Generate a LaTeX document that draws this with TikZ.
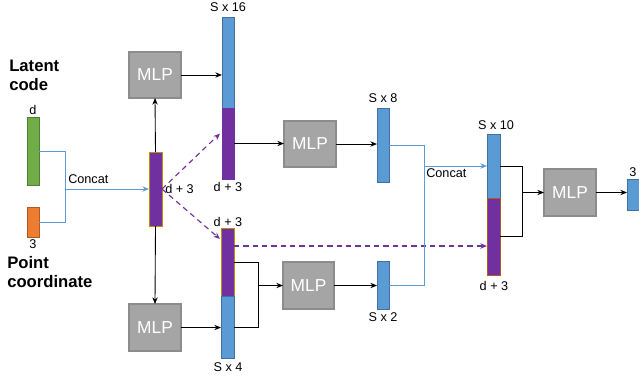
\documentclass[tikz,border=0pt]{standalone}
\usepackage{fontspec}
\setmainfont{Liberation Sans}
\usetikzlibrary{fit,calc,arrows.meta}
\definecolor{cblue}{HTML}{5B9BD5}
\definecolor{cblueb}{HTML}{41719C}
\definecolor{cpurple}{HTML}{7030A0}
\definecolor{cgreen}{HTML}{70AD47}
\definecolor{cgreenb}{HTML}{507E32}
\definecolor{corange}{HTML}{ED7D31}
\definecolor{corangeb}{HTML}{AE5A21}
\definecolor{cgold}{HTML}{BF9000}
\definecolor{cgray}{HTML}{A5A5A5}
\definecolor{cgrayb}{HTML}{8C8C8C}
\tikzset{
  box/.style={inner sep=0pt, outer sep=0pt},
  bluebar/.style={box, fill=cblue, draw=cblueb, line width=0.6pt},
  purplebar/.style={box, fill=cpurple, draw=cpurple, line width=0.6pt},
  goldbar/.style={box, fill=cpurple, draw=cgold, line width=0.7pt},
  mlp/.style={box, fill=cgray, draw=cgrayb, line width=0.8pt},
  mlptext/.style={inner sep=0pt, text=white, font=\fontsize{13}{15}\selectfont},
  lbl/.style={font=\fontsize{9.5}{11}\selectfont, inner sep=0pt},
  big/.style={font=\bfseries\fontsize{12.5}{15}\selectfont, align=left, inner sep=0pt},
  conn/.style={draw=cblue, line width=0.7pt},
  blk/.style={draw=black, line width=0.65pt},
  arr/.style={-{Stealth[length=5pt,width=4pt]}},
  dsh/.style={draw=cpurple, line width=0.85pt, dash pattern=on 4pt off 3pt, -{Stealth[length=5pt,width=4pt]}}
}
\begin{document}
\begin{tikzpicture}[x=0.75pt,y=-0.75pt]
\useasboundingbox (0,0) rectangle (639,376);
\fill[white] (0,0) rectangle (639,376);
% inputs
\node[box, fill=cgreen, draw=cgreenb, line width=0.6pt, fit={(27,117)(39,185)}] (g) {};
\node[box, fill=corange, draw=corangeb, line width=0.6pt, fit={(27,207)(39,237)}] (o) {};
\node[lbl] (dl) at (33,110) {d};
\node[lbl, anchor=north] (tl) at (33,239) {3};
\node[big, anchor=north west] (lat) at (9,60) {Latent\\[-1pt]code};
\node[big, anchor=north west] (pc) at (7,256) {Point\\[-1pt]coordinate};
% concat bar
\node[goldbar, fit={(149,152)(162,226)}] (c) {};
\node[lbl, anchor=west] (cdl) at (165,189) {d + 3};
% MLPs
\node[mlp, fit={(129,52)(181,98)}] (m1) {};
\node[mlptext] at (m1.center) (m1t) {MLP};
\node[mlp, fit={(129,304)(181,351)}] (m4) {};
\node[mlptext] at (m4.center) (m4t) {MLP};
\node[mlp, fit={(284,121)(336,167)}] (m2) {};
\node[mlptext] at (m2.center) (m2t) {MLP};
\node[mlp, fit={(283,262)(334,309)}] (m3) {};
\node[mlptext] at (m3.center) (m3t) {MLP};
\node[mlp, fit={(544,169)(596,216)}] (m5) {};
\node[mlptext] at (m5.center) (m5t) {MLP};
% S x 16 bar
\node[bluebar, fit={(222,17)(234,108)}] (b16) {};
\node[purplebar, fit={(222,108)(234,179)}] (p16) {};
\node[lbl] (l16) at (228,7) {S x 16};
\node[lbl] (l16d) at (228,187) {d + 3};
% lower bar
\node[goldbar, fit={(221,228)(234,296)}] (pl) {};
\node[bluebar, fit={(221,296)(234,358)}] (bl) {};
\node[lbl] (lld) at (228,222) {d + 3};
\node[lbl] (ll4) at (228,367) {S x 4};
% S x 8, S x 2
\node[bluebar, fit={(377,108)(389,182)}] (s8) {};
\node[lbl] (l8) at (383,98) {S x 8};
\node[bluebar, fit={(377,261)(389,309)}] (s2) {};
\node[lbl] (l2) at (383,317) {S x 2};
% S x 10 bar
\node[bluebar, fit={(487,134)(500,198)}] (b10) {};
\node[box, fill=cpurple, draw=corangeb, line width=0.6pt, fit={(487,198)(500,275)}] (p10) {};
\node[lbl] (l10) at (496,125) {S x 10};
\node[lbl] (l10d) at (494,286) {d + 3};
% output bar
\node[bluebar, fit={(627,179)(642,210)}] (out) {};
\node[lbl] (l3) at (633,172) {3};
% concat connectors
\coordinate (j0) at (65,0);
\path[conn] (g.east) -| (j0 |- o.east) -- (o.east);
\path[conn, arr] (j0 |- c.west) -- (c.west);
\node[lbl, anchor=south west] (cc1) at (68,184) {Concat};
% from concat bar
\draw[blk, arr] (c.north) -- (m1.south);
\draw[blk, arr] (c.south) -- (m4.north);
\path[dsh] (c.east) -- ($(p16.west)+(-2,-10)$);
\path[dsh] (c.east) -- ($(pl.west)+(-1,-23)$);
\draw[blk, arr] (m1.east) -- (m1.east -| b16.west);
\draw[blk, arr] (m4.east) -- (m4.east -| bl.west);
\draw[blk, arr] (p16.east) -- (p16.east -| m2.west);
\draw[blk, arr] (m2.east) -- (m2.east -| s8.west);
% lower elbow
\coordinate (j1) at (258,0);
\draw[blk] (pl.east) -| (j1 |- bl.east) -- (bl.east);
\draw[blk, arr] (j1 |- m3.west) -- (m3.west);
\draw[blk, arr] (m3.east) -- (m3.east -| s2.west);
% dashed skip
\coordinate (dk) at ($(pl.north east)+(0,18)$);
\path[dsh] (dk) -- (dk -| p10.west);
% second concat
\coordinate (j2) at (424,0);
\path[conn] (s8.east) -| (j2 |- s2.east) -- (s2.east);
\path[conn, arr] (j2 |- b10.west) -- (b10.west);
\node[lbl, anchor=north west] (cc2) at (426,168) {Concat};
% S x 10 elbow
\coordinate (j3) at (522,0);
\draw[blk] (b10.east) -| (j3 |- p10.east) -- (p10.east);
\draw[blk, arr] (j3 |- m5.west) -- (m5.west);
\draw[blk, arr] (m5.east) -- (m5.east -| out.west);
\end{tikzpicture}
\end{document}
